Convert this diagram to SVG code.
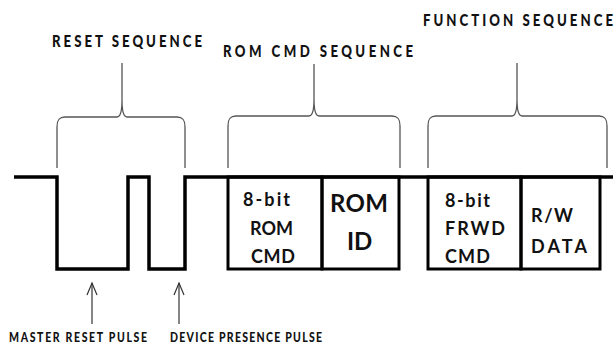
<svg xmlns="http://www.w3.org/2000/svg" width="616" height="345" viewBox="0 0 616 345">
<style>
.lbl{font-family:Lato,"Open Sans","Noto Sans",sans-serif;font-weight:bold;fill:#111;}
.top{font-size:16.5px;font-weight:900;}
.bot{font-size:14px;font-weight:900;}
.box{font-size:18px;}
.big{font-size:24px;}
.brace{fill:none;stroke:#555;stroke-width:1.3;}
.wave{fill:none;stroke:#000;stroke-width:3.5;stroke-linejoin:miter;}
.frame{fill:none;stroke:#000;stroke-width:3;}
.arrow{fill:none;stroke:#333;stroke-width:1.2;}
</style>
<rect width="616" height="345" fill="#fff"/>
<g id="connectors">
<path class="wave" d="M14,177 H57 V269 H128 V177 H149 V269 H185 V177 H613"/>
<path class="brace" d="M57,168 V127 C57,120 59,117 65,117 H117 C120,117 122,112 122,100 V63 M122,100 C122,112 124,117 127,117 H177 C183,117 185,120 185,127 V168"/>
<path class="brace" d="M228,168 V126 C228,119 230,116 236,116 H309 C312,116 314,111 314,99 V64 M314,99 C314,111 316,116 319,116 H392 C398,116 400,119 400,126 V168"/>
<path class="brace" d="M428,168 V126 C428,119 430,116 436,116 H512 C515,116 517,111 517,99 V63 M517,99 C517,111 519,116 522,116 H599 C605,116 607,119 607,126 V168"/>
<g id="arrow-master"><line class="arrow" x1="92" y1="324" x2="92" y2="283"/><polyline class="arrow" points="87,295 92,283 97,295"/></g>
<g id="arrow-device"><line class="arrow" x1="179" y1="324" x2="179" y2="283"/><polyline class="arrow" points="174,295 179,283 184,295"/></g>
</g>
<g id="rom-cmd">
<rect class="frame" x="228" y="177" width="94" height="92"/>
<text class="lbl box" x="243" y="206" textLength="47" lengthAdjust="spacing">8-bit</text>
<text class="lbl box" x="250" y="235" textLength="43" lengthAdjust="spacing">ROM</text>
<text class="lbl box" x="251" y="263" textLength="44" lengthAdjust="spacing">CMD</text>
</g>
<g id="rom-id">
<rect class="frame" x="322" y="177" width="77" height="92"/>
<text class="lbl big" x="330" y="212" textLength="58" lengthAdjust="spacing">ROM</text>
<text class="lbl big" x="347" y="250">ID</text>
</g>
<g id="frwd-cmd">
<rect class="frame" x="428" y="177" width="93" height="92"/>
<text class="lbl box" x="445" y="207" textLength="45" lengthAdjust="spacing">8-bit</text>
<text class="lbl box" x="445" y="235" textLength="60" lengthAdjust="spacing">FRWD</text>
<text class="lbl box" x="445" y="263" textLength="45" lengthAdjust="spacing">CMD</text>
</g>
<g id="rw-data">
<rect class="frame" x="521" y="177" width="79" height="92"/>
<text class="lbl box" x="531" y="222" textLength="42" lengthAdjust="spacing">R/W</text>
<text class="lbl box" x="531" y="253" textLength="56" lengthAdjust="spacing">DATA</text>
</g>
<g id="labels">
<g transform="scale(0.8,1)">
<text class="lbl top" x="65" y="47" textLength="187.5" lengthAdjust="spacing">RESET SEQUENCE</text>
<text class="lbl top" x="278.75" y="57" textLength="237.5" lengthAdjust="spacing">ROM CMD SEQUENCE</text>
<text class="lbl top" x="528.75" y="26" textLength="237.5" lengthAdjust="spacing">FUNCTION SEQUENCE</text>
</g>
<g transform="scale(0.75,1)">
<text class="lbl bot" x="12" y="342" textLength="184" lengthAdjust="spacing">MASTER RESET PULSE</text>
<text class="lbl bot" x="226.7" y="342" textLength="202.7" lengthAdjust="spacing">DEVICE PRESENCE PULSE</text>
</g>
</g>
</svg>
